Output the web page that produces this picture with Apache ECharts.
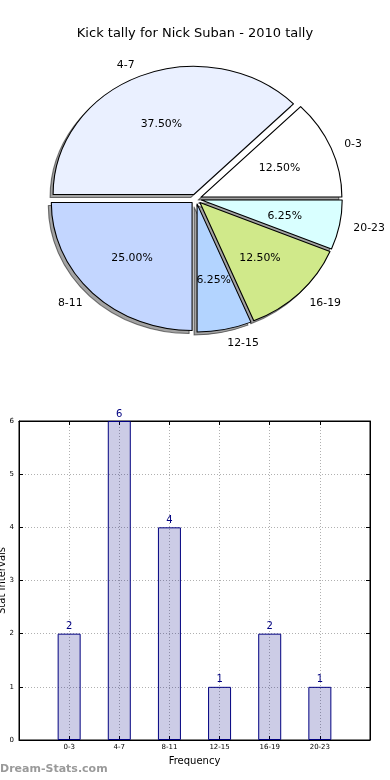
<!DOCTYPE html>
<html>
<head>
<meta charset="utf-8">
<script src="https://cdn.jsdelivr.net/npm/echarts@6/dist/echarts.min.js"></script>
<style>
html,body{margin:0;padding:0;background:#fff;}
#wrap{position:relative;width:390px;height:780px;}
#c{position:absolute;left:0;top:0;width:390px;height:780px;}
#p{position:absolute;left:0;top:0;width:390px;height:360px;transform:scaleX(1.1);transform-origin:196px 0;pointer-events:none;}
</style>
</head>
<body>
<div id="wrap"><div id="c"></div><div id="p"></div></div>
<script>
var categories = ['0-3', '4-7', '8-11', '12-15', '16-19', '20-23'];
var counts = [2, 6, 4, 1, 2, 1];
var sliceColors = ['#ffffff', '#eaf0ff', '#c3d6ff', '#b3d4ff', '#d0e98a', '#d9ffff'];
var yTicks = [0, 1, 2, 3, 4, 5, 6];
var titleText = 'Kick tally for Nick Suban - 2010 tally';

var FONT = 'DejaVu Sans';
var PIEFONT = "'DejaVu Sans Condensed', 'DejaVu Sans'";
var R = 128;
var CENTER = [196, 199];
var SCALE_X = 1.1;
var total = counts.reduce(function (a, b) { return a + b; }, 0);

/* ---------- bar chart + title ---------- */
var chart = echarts.init(document.getElementById('c'), null, { renderer: 'canvas' });
chart.setOption({
  animation: false,
  title: {
    text: titleText, left: 'center', top: 22,
    textStyle: { fontFamily: FONT, fontSize: 13, fontWeight: 'normal', color: '#000' }
  },
  graphic: [{
    type: 'text', left: 0, top: 764,
    style: { text: 'Dream-Stats.com', fill: '#9a9a9a', font: 'bold 11px "DejaVu Sans"' }
  }],
  grid: {
    left: 19, right: 20, top: 421, bottom: 40, show: true,
    borderColor: '#000', borderWidth: 1, containLabel: false, outerBoundsMode: 'none'
  },
  xAxis: [{
    type: 'value', min: -1, max: 6, interval: 1,
    name: 'Frequency', nameLocation: 'middle', nameGap: 16, nameMoveOverlap: false,
    nameTextStyle: { fontFamily: FONT, fontSize: 10, color: '#000' },
    axisLine: { show: true, onZero: false, lineStyle: { color: '#000' } },
    axisTick: { show: true, inside: true, length: 4, lineStyle: { color: '#000' } },
    axisLabel: {
      fontFamily: FONT, fontSize: 7, color: '#000', margin: 4,
      formatter: function (v) { return categories[v] !== undefined ? categories[v] : ''; }
    },
    splitLine: { show: true, lineStyle: { color: '#b0b0b0', type: [1, 2], width: 1 } }
  }, {
    type: 'value', min: -1, max: 6, interval: 1, position: 'top',
    axisLine: { show: true, onZero: false, lineStyle: { color: '#000' } },
    axisTick: { show: true, inside: true, length: 4, lineStyle: { color: '#000' } },
    axisLabel: { show: false }, splitLine: { show: false }
  }],
  yAxis: [{
    type: 'value', min: 0, max: 6, interval: 1,
    name: 'Stat Intervals', nameLocation: 'middle', nameGap: 12, nameRotate: 90,
    nameMoveOverlap: false,
    nameTextStyle: { fontFamily: FONT, fontSize: 10, color: '#000' },
    axisLine: { show: true, onZero: false, lineStyle: { color: '#000' } },
    axisTick: { show: true, inside: true, length: 4, lineStyle: { color: '#000' } },
    axisLabel: {
      fontFamily: FONT, fontSize: 7, color: '#000', margin: 5,
      formatter: function (v) { return yTicks.indexOf(v) >= 0 ? String(v) : ''; }
    },
    splitLine: { show: true, lineStyle: { color: '#b0b0b0', type: [1, 2], width: 1 } }
  }, {
    type: 'value', min: 0, max: 6, interval: 1, position: 'right',
    axisLine: { show: true, onZero: false, lineStyle: { color: '#000' } },
    axisTick: { show: true, inside: true, length: 4, lineStyle: { color: '#000' } },
    axisLabel: { show: false }, splitLine: { show: false }
  }],
  series: [{
    type: 'bar', xAxisIndex: 0, yAxisIndex: 0,
    data: categories.map(function (c, i) { return [i, counts[i]]; }),
    barWidth: 23,
    itemStyle: { color: 'rgba(0,0,128,0.2)', borderColor: '#000080', borderWidth: 1 },
    label: {
      show: true, position: 'top', distance: 2, color: '#000080',
      fontFamily: FONT, fontSize: 10,
      formatter: function (p) { return p.value[1]; }
    }
  }]
});

/* ---------- elliptical pie (horizontally stretched) ---------- */
function pieSeries(extra) {
  var base = {
    type: 'pie', center: CENTER, radius: [0, R],
    startAngle: 0, clockwise: false,
    selectedMode: 'multiple', selectedOffset: 5,
    avoidLabelOverlap: false,
    label: { show: false }, labelLine: { show: false },
    emphasis: { disabled: true }, silent: true
  };
  for (var k in extra) base[k] = extra[k];
  return base;
}
var pie = echarts.init(document.getElementById('p'), null, { renderer: 'svg' });
pie.setOption({
  animation: false,
  series: [
    pieSeries({
      center: [CENTER[0] - 3 / SCALE_X, CENTER[1] + 3],
      data: categories.map(function (c, i) { return { name: c, value: counts[i], selected: true }; }),
      itemStyle: { color: '#a3a3a3', borderColor: 'rgba(0,0,0,0.5)', borderWidth: 1 }
    }),
    pieSeries({
      data: categories.map(function (c, i) {
        return { name: c, value: counts[i], selected: true, itemStyle: { color: sliceColors[i] } };
      }),
      itemStyle: { borderColor: '#000', borderWidth: 1 }
    }),
    pieSeries({
      radius: [0, R * 1.16],
      data: categories.map(function (c, i) { return { name: c, value: counts[i], selected: true }; }),
      itemStyle: { color: 'rgba(0,0,0,0)', borderWidth: 0 },
      label: {
        show: true, position: 'inside', color: '#000',
        fontFamily: PIEFONT, fontSize: 11,
        formatter: function (p) { return (p.value / total * 100).toFixed(2) + '%'; }
      }
    }),
    pieSeries({
      data: categories.map(function (c, i) { return { name: c, value: counts[i], selected: true }; }),
      itemStyle: { color: 'rgba(0,0,0,0)', borderWidth: 0 },
      label: {
        show: true, position: 'outside', color: '#000', distanceToLabelLine: 0,
        fontFamily: PIEFONT, fontSize: 11,
        formatter: function (p) { return p.name; }
      },
      labelLine: { show: false, length: R * 0.1, length2: 0 }
    })
  ]
});
</script>
</body>
</html>
